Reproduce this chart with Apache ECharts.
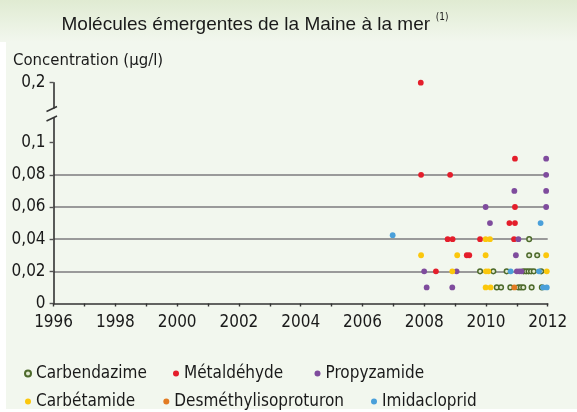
<!DOCTYPE html>
<html><head><meta charset="utf-8">
<script src="https://cdn.jsdelivr.net/npm/echarts@6/dist/echarts.min.js"></script>
<style>
html,body{margin:0;padding:0;background:#fff;}
#wrap{position:relative;width:577px;height:412px;overflow:hidden;background:#fff;}
#band{position:absolute;left:0;top:0;width:577px;height:42px;background:linear-gradient(#e0ebd2,#f2f7ee);}
#panel{position:absolute;left:6px;top:42px;width:571px;height:367px;background:#f2f7ee;}
#chart{position:absolute;left:0;top:0;width:577px;height:412px;}
</style></head>
<body>
<div id="wrap"><div id="band"></div><div id="panel"></div><div id="chart"></div></div>
<script>
// ---- data ----
const xLabelYears = [1996, 1998, 2000, 2002, 2004, 2006, 2008, 2010, 2012];
const yTicks = [0, 0.02, 0.04, 0.06, 0.08, 0.1];
const yTicksHigh = [0.2];

const carbendazime = [[2011.4,0.04],[2011.4,0.03],[2011.66,0.03],[2009.81,0.02],[2010.24,0.02],[2010.67,0.02],
  [2011.22,0.02],[2011.3,0.02],[2011.38,0.02],[2011.46,0.02],[2011.55,0.02],[2011.79,0.02],
  [2010.35,0.01],[2010.49,0.01],[2010.79,0.01],[2011.05,0.01],[2011.13,0.01],[2011.21,0.01],[2011.48,0.01],[2011.81,0.01]];
const metaldehyde = [[2007.9,0.08],[2008.84,0.08],[2010.94,0.09],[2010.94,0.06],[2010.76,0.05],[2010.94,0.05],
  [2008.76,0.04],[2008.92,0.04],[2009.81,0.04],[2010.91,0.04],[2009.38,0.03],[2009.46,0.03],[2008.38,0.02]];
const metaldehydeHigh = [[2007.89,0.2]];
const propyzamide = [[2011.95,0.09],[2011.95,0.08],[2010.92,0.07],[2011.95,0.07],[2009.99,0.06],[2011.95,0.06],
  [2010.13,0.05],[2011.05,0.04],[2010.97,0.03],[2011.0,0.02],[2011.08,0.02],[2011.15,0.02],[2008.0,0.02],
  [2009.05,0.02],[2008.08,0.01],[2008.91,0.01]];
const carbetamide = [[2007.9,0.03],[2009.07,0.03],[2008.91,0.02],[2009.99,0.04],[2010.13,0.04],[2009.99,0.03],
  [2011.95,0.03],[2010.0,0.02],[2010.08,0.02],[2011.97,0.02],[2009.99,0.01],[2010.15,0.01]];
const desmethylisoproturon = [[2010.92,0.01]];
const imidacloprid = [[2006.98,0.0425],[2011.77,0.05],[2010.8,0.02],[2011.72,0.02],[2011.85,0.01],[2011.97,0.01]];

const NARROW = "'DejaVu Sans Condensed', 'DejaVu Sans', sans-serif";
const FS = 17;
const TXT = '#1a1a1a';
const GRIDC = '#9a9a9a';
const AXC = '#333';
const fmt = v => (Math.round(v * 1000) / 1000).toString().replace('.', ',');

const chart = echarts.init(document.getElementById('chart'), null, {renderer: 'canvas'});

const dot = 5.8;
function sc(name, data, color, extra, hi) {
  return Object.assign({
    type: 'scatter', name, data, symbol: 'circle', symbolSize: dot, clip: false,
    xAxisIndex: hi ? 1 : 0, yAxisIndex: hi ? 1 : 0,
    itemStyle: {color, opacity: 1}, emphasis: {disabled: true}
  }, extra || {});
}
const ringStyle = {symbolSize: 4.6, itemStyle: {color: '#e3ead2', borderColor: '#4d6a2c', borderWidth: 1.5, opacity: 1}};

const legendPos = [
  ['Carbendazime', 24, 363.5], ['Métaldéhyde', 173, 363.5], ['Propyzamide', 314.5, 363.5],
  ['Carbétamide', 25, 391.5], ['Desméthylisoproturon', 163.3, 391.5], ['Imidacloprid', 371, 391.5]
];

const option = {
  animation: false,
  title: [{
    text: '{m|Molécules émergentes de la Maine à la mer}{s|  (1)}',
    left: 56.5, top: 7,
    textStyle: {
      fontWeight: 'normal',
      rich: {
        m: {fontFamily: "'Liberation Sans', sans-serif", fontWeight: 'normal', fontSize: 19, color: TXT, lineHeight: 26},
        s: {fontFamily: NARROW, fontWeight: 'normal', fontSize: 10, color: TXT, verticalAlign: 'top', lineHeight: 16}
      }
    }
  }, {
    text: 'Concentration (µg/l)', left: 8, top: 47.5,
    textStyle: {fontFamily: NARROW, fontSize: 16.6, fontWeight: 'normal', color: TXT}
  }],
  legend: legendPos.map(([n, l, t]) => ({
    data: [n], left: l, top: t, padding: 0, itemWidth: 6, itemHeight: 6, itemGap: 0,
    icon: 'circle', selectedMode: false,
    textStyle: {fontFamily: NARROW, fontSize: FS, color: TXT, lineHeight: 20}
  })),
  grid: [
    {left: 53.6, right: 29.3, top: 118.5, height: 185, containLabel: false},
    {left: 53.6, right: 29.3, top: 82.7, height: 25.3, containLabel: false}
  ],
  xAxis: [{
    type: 'value', gridIndex: 0, min: 1996, max: 2012, interval: 1,
    axisLine: {show: true, onZero: false, lineStyle: {color: AXC, width: 1.6}},
    axisTick: {show: true, length: 3, lineStyle: {color: AXC, width: 1.4}},
    axisLabel: {customValues: xLabelYears, formatter: v => String(v), margin: 10.5,
      fontFamily: NARROW, fontSize: FS, color: TXT},
    splitLine: {show: false}
  }, {
    type: 'value', gridIndex: 1, min: 1996, max: 2012, interval: 1, show: false
  }],
  yAxis: [{
    type: 'value', gridIndex: 0, min: 0, max: 0.115, interval: 0.02,
    axisLine: {show: true, onZero: false, lineStyle: {color: AXC, width: 1.6}},
    axisTick: {show: true, customValues: yTicks, length: 4, lineStyle: {color: '#555', width: 1.4}},
    axisLabel: {customValues: yTicks, formatter: fmt, margin: 8, padding: [0, 0, 3, 0], fontFamily: NARROW, fontSize: FS, color: TXT},
    splitLine: {show: true, showMinLine: false, showMaxLine: false, lineStyle: {color: GRIDC, width: 1.8}}
  }, {
    type: 'value', gridIndex: 1, min: 0.18, max: 0.2, interval: 0.02,
    axisLine: {show: true, onZero: false, lineStyle: {color: AXC, width: 1.6}},
    axisTick: {show: true, customValues: yTicksHigh, length: 4, lineStyle: {color: '#555', width: 1.4}},
    axisLabel: {customValues: yTicksHigh, formatter: fmt, margin: 8, padding: [0, 0, 3, 0], fontFamily: NARROW, fontSize: FS, color: TXT},
    splitLine: {show: true, showMinLine: false, lineStyle: {color: GRIDC, width: 1.8}}
  }],
  graphic: [
    {type: 'line', z: 100, shape: {x1: 46.5, y1: 111.5, x2: 57, y2: 106.5}, style: {stroke: AXC, lineWidth: 1.4}},
    {type: 'line', z: 100, shape: {x1: 46.5, y1: 121, x2: 57, y2: 116}, style: {stroke: AXC, lineWidth: 1.4}}
  ],
  series: [
    sc('Carbendazime', carbendazime, '#4d6a2c', ringStyle),
    sc('Métaldéhyde', metaldehyde, '#e41e2b'),
    sc('Métaldéhyde', metaldehydeHigh, '#e41e2b', null, true),
    sc('Propyzamide', propyzamide, '#7f4c9d'),
    sc('Carbétamide', carbetamide, '#fbc70c'),
    sc('Desméthylisoproturon', desmethylisoproturon, '#e27b22'),
    sc('Imidacloprid', imidacloprid, '#4aa0da')
  ]
};
chart.setOption(option);
</script>
</body></html>
